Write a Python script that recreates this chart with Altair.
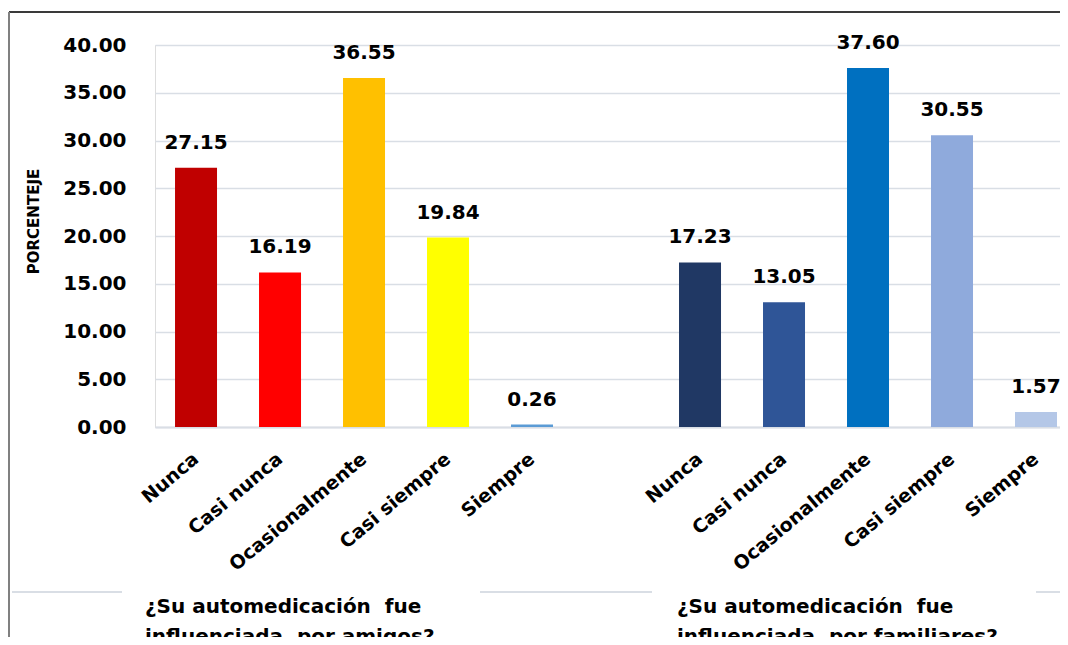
import altair as alt
import pandas as pd

categories = ["Nunca", "Casi nunca", "Ocasionalmente", "Casi siempre", "Siempre"]
amigos = [27.15, 16.19, 36.55, 19.84, 0.26]
familiares = [17.23, 13.05, 37.60, 30.55, 1.57]
colors_amigos = ["#C00000", "#FF0000", "#FFC000", "#FFFF00", "#5B9BD5"]
colors_familiares = ["#203864", "#2F5597", "#0070C0", "#8FAADC", "#B4C7E7"]
y_ticks = [0, 5, 10, 15, 20, 25, 30, 35, 40]
y_title = "PORCENTEJE"
captions = [
    "¿Su automedicación\u00a0\u00a0fue\ninfluenciada\u00a0\u00a0por amigos?",
    "¿Su automedicación\u00a0\u00a0fue\ninfluenciada\u00a0\u00a0por familiares?",
]

keys_a = [c + "|A" for c in categories]
keys_f = [c + "|F" for c in categories]
domain = keys_a + [" |G"] + keys_f

df = pd.DataFrame({
    "key": keys_a + keys_f,
    "valor": amigos + familiares,
})
color_scale = alt.Scale(domain=keys_a + keys_f, range=colors_amigos + colors_familiares)

FONT = "DejaVu Sans"
W, H = 905, 382

x = alt.X(
    "key:N",
    scale=alt.Scale(domain=domain, paddingInner=0.5, paddingOuter=0.137, align=0.87),
    sort=domain,
    axis=alt.Axis(
        title=None,
        labelExpr="split(datum.value, '|')[0]",
        labelAngle=-40,
        labelAlign="right",
        labelBaseline="middle",
        labelFont=FONT,
        labelFontWeight="bold",
        labelFontSize=19,
        labelColor="#000000",
        labelPadding=29,
        ticks=False,
        domain=True,
        domainColor="#D9DEE5",
        domainWidth=2,
        grid=False,
    ),
)
y = alt.Y(
    "valor:Q",
    scale=alt.Scale(domain=[0, 40], nice=False),
    axis=alt.Axis(
        values=y_ticks,
        format=".2f",
        title=y_title,
        titleFont=FONT,
        titleFontWeight="bold",
        titleFontSize=15,
        titleColor="#000000",
        titleAngle=270,
        titleAlign="center",
        titleBaseline="middle",
        titleX=-122,
        titleY=176,
        labelFont=FONT,
        labelFontWeight="bold",
        labelFontSize=20,
        labelColor="#000000",
        labelPadding=29,
        ticks=False,
        domain=False,
        grid=True,
        gridColor="#D9DEE5",
        gridWidth=1.5,
    ),
)

base = alt.Chart(df)
bars = base.mark_bar().encode(
    x=x, y=y,
    color=alt.Color("key:N", scale=color_scale, legend=None),
)
labels = base.mark_text(
    font=FONT, fontWeight="bold", fontSize=20, color="#000000",
    baseline="middle", dy=-25,
).encode(x=x, y=y, text=alt.Text("valor:Q", format=".2f"))

cap_df = pd.DataFrame({"t": captions, "i": [0, 1]})
cap1 = alt.Chart(cap_df).transform_filter("datum.i == 0").mark_text(
    font=FONT, fontWeight="bold", fontSize=20, color="#000000",
    align="left", baseline="middle", lineBreak="\n", lineHeight=30,
).encode(x=alt.value(-10), y=alt.value(562), text="t:N")
cap2 = alt.Chart(cap_df).transform_filter("datum.i == 1").mark_text(
    font=FONT, fontWeight="bold", fontSize=20, color="#000000",
    align="left", baseline="middle", lineBreak="\n", lineHeight=30,
).encode(x=alt.value(522), y=alt.value(562), text="t:N")

frame_top = alt.Chart(cap_df).transform_filter("datum.i == 0").mark_rule(
    color="#3A3A3A", strokeWidth=2).encode(
    x=alt.value(-146), x2=alt.value(W), y=alt.value(-33))
frame_left = alt.Chart(cap_df).transform_filter("datum.i == 0").mark_rule(
    color="#808080", strokeWidth=2).encode(
    x=alt.value(-146), y=alt.value(-33), y2=alt.value(700))
seg1 = alt.Chart(cap_df).transform_filter("datum.i == 0").mark_rule(
    color="#D9DEE5", strokeWidth=2).encode(
    x=alt.value(-143), x2=alt.value(-33), y=alt.value(547))
seg2 = alt.Chart(cap_df).transform_filter("datum.i == 0").mark_rule(
    color="#D9DEE5", strokeWidth=2).encode(
    x=alt.value(325), x2=alt.value(497), y=alt.value(547))
seg3 = alt.Chart(cap_df).transform_filter("datum.i == 0").mark_rule(
    color="#D9DEE5", strokeWidth=2).encode(
    x=alt.value(881), x2=alt.value(W), y=alt.value(547))

chart = alt.layer(
    bars, labels, cap1, cap2, frame_top, frame_left, seg1, seg2, seg3
).properties(
    width=W, height=H,
    autosize=alt.AutoSizeParams(type="none"),
    padding={"left": 147, "top": 37, "right": 0, "bottom": 210},
).configure_view(strokeWidth=0, strokeOpacity=0).configure(background="#FFFFFF")

chart.save("out.html", embed_options={"renderer": "svg", "actions": False})
